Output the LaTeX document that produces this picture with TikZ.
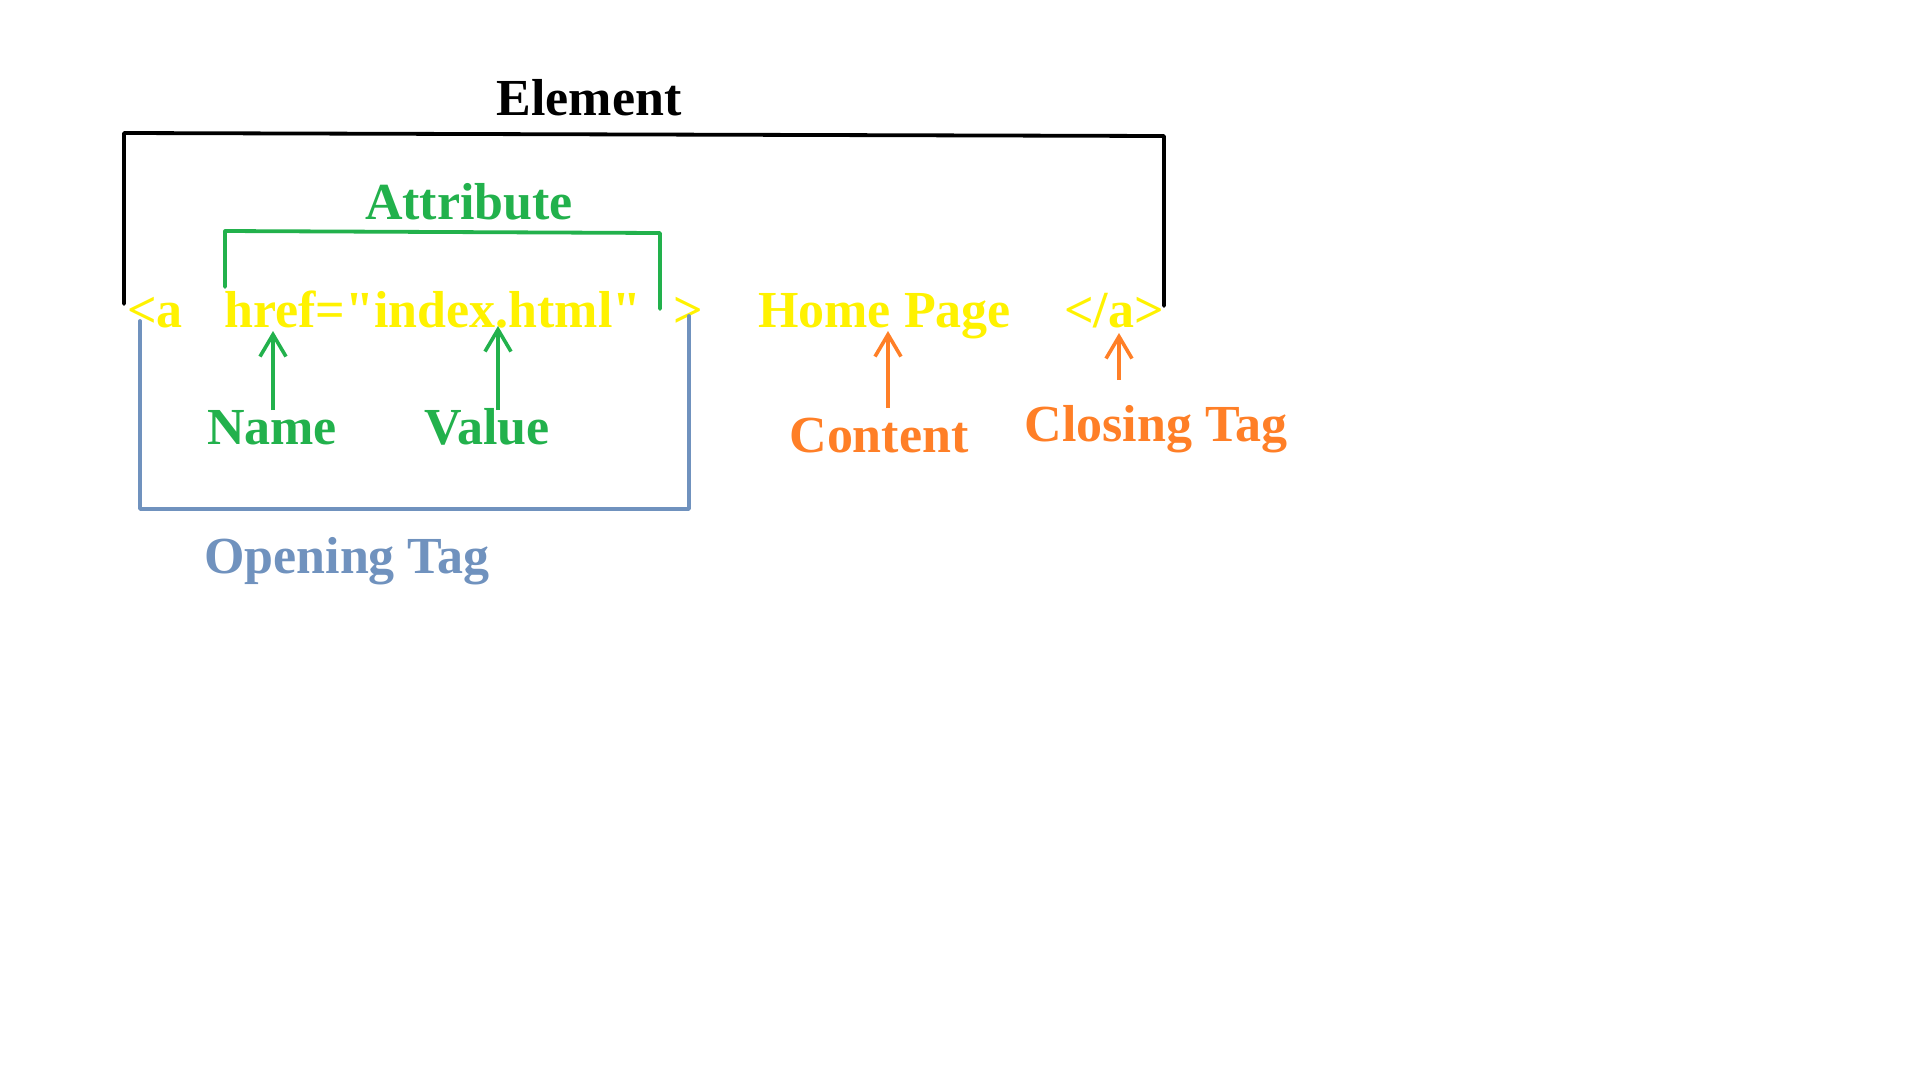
\documentclass[tikz,border=0pt]{standalone}
\usepackage{fontspec}
\setmainfont{Liberation Serif}
\newfontfamily\codefont{Liberation Serif}[Ligatures=TeXOff]
\usetikzlibrary{arrows.meta}
\definecolor{codey}{RGB}{255,242,0}
\definecolor{pgreen}{RGB}{34,177,76}
\definecolor{porange}{RGB}{255,127,39}
\definecolor{pblue}{RGB}{112,146,190}
\tikzset{
  lbl/.style={inner sep=0pt, anchor=base, font=\fontsize{52}{60}\selectfont\bfseries},
  code/.style={inner sep=0pt, anchor=base west, text=codey, font=\codefont\fontsize{52}{60}\selectfont\bfseries},
  brk/.style={line width=3.8pt, line cap=round, line join=round},
  arr/.style={line width=3.6pt, -{Straight Barb[length=22pt,width=26pt,line width=3.6pt]}},
}
\begin{document}
\begin{tikzpicture}[x=1pt,y=-1pt]
\useasboundingbox (0,0) rectangle (1920,1080);
% code line
\node[code] (lt) at (127,327) {<a};
\node[code] (href) at (224,327) {href="index.html"};
\node[code] (gt) at (673,327) {>};
\node[code] (home) at (758,327) {Home Page};
\node[code] (close) at (1064,327) {</a>};
% labels
\node[lbl] (element) at (589,115) {Element};
\node[lbl, text=pgreen] (attr) at (469,219) {Attribute};
\node[lbl, text=pgreen] (name) at (272,444) {Name};
\node[lbl, text=pgreen] (value) at (487,444) {Value};
\node[lbl, text=porange] (content) at (879,452) {Content};
\node[lbl, text=porange] (closing) at (1156,441) {Closing Tag};
\node[lbl, text=pblue] (opening) at (347,573) {Opening Tag};
% element bracket
\coordinate (e1) at (124,304);
\coordinate (e2) at (124,133);
\coordinate (e3) at (1164,136);
\coordinate (e4) at (1164,306);
\draw[brk, black] (e1) -- (e2) -- (e3) -- (e4);
% attribute bracket
\coordinate (a1) at (225,287);
\coordinate (a2) at (225,231);
\coordinate (a3) at (660,233);
\coordinate (a4) at (660,309);
\draw[brk, pgreen] (a1) -- (a2) -- (a3) -- (a4);
% opening tag bracket
\coordinate (o1) at (140,321);
\coordinate (o2) at (140,509);
\coordinate (o3) at (689,509);
\coordinate (o4) at (689,316);
\draw[brk, pblue] (o1) -- (o2) -- (o3) -- (o4);
% arrows
\coordinate (nameT) at (273,410);
\coordinate (nameH) at (273,331);
\draw[arr, pgreen] (nameT) -- (nameH);
\coordinate (valT) at (498,410);
\coordinate (valH) at (498,326);
\draw[arr, pgreen] (valT) -- (valH);
\coordinate (conT) at (888,408);
\coordinate (conH) at (888,331);
\draw[arr, porange] (conT) -- (conH);
\coordinate (cloT) at (1119,380);
\coordinate (cloH) at (1119,333);
\draw[arr, porange] (cloT) -- (cloH);
\end{tikzpicture}
\end{document}
